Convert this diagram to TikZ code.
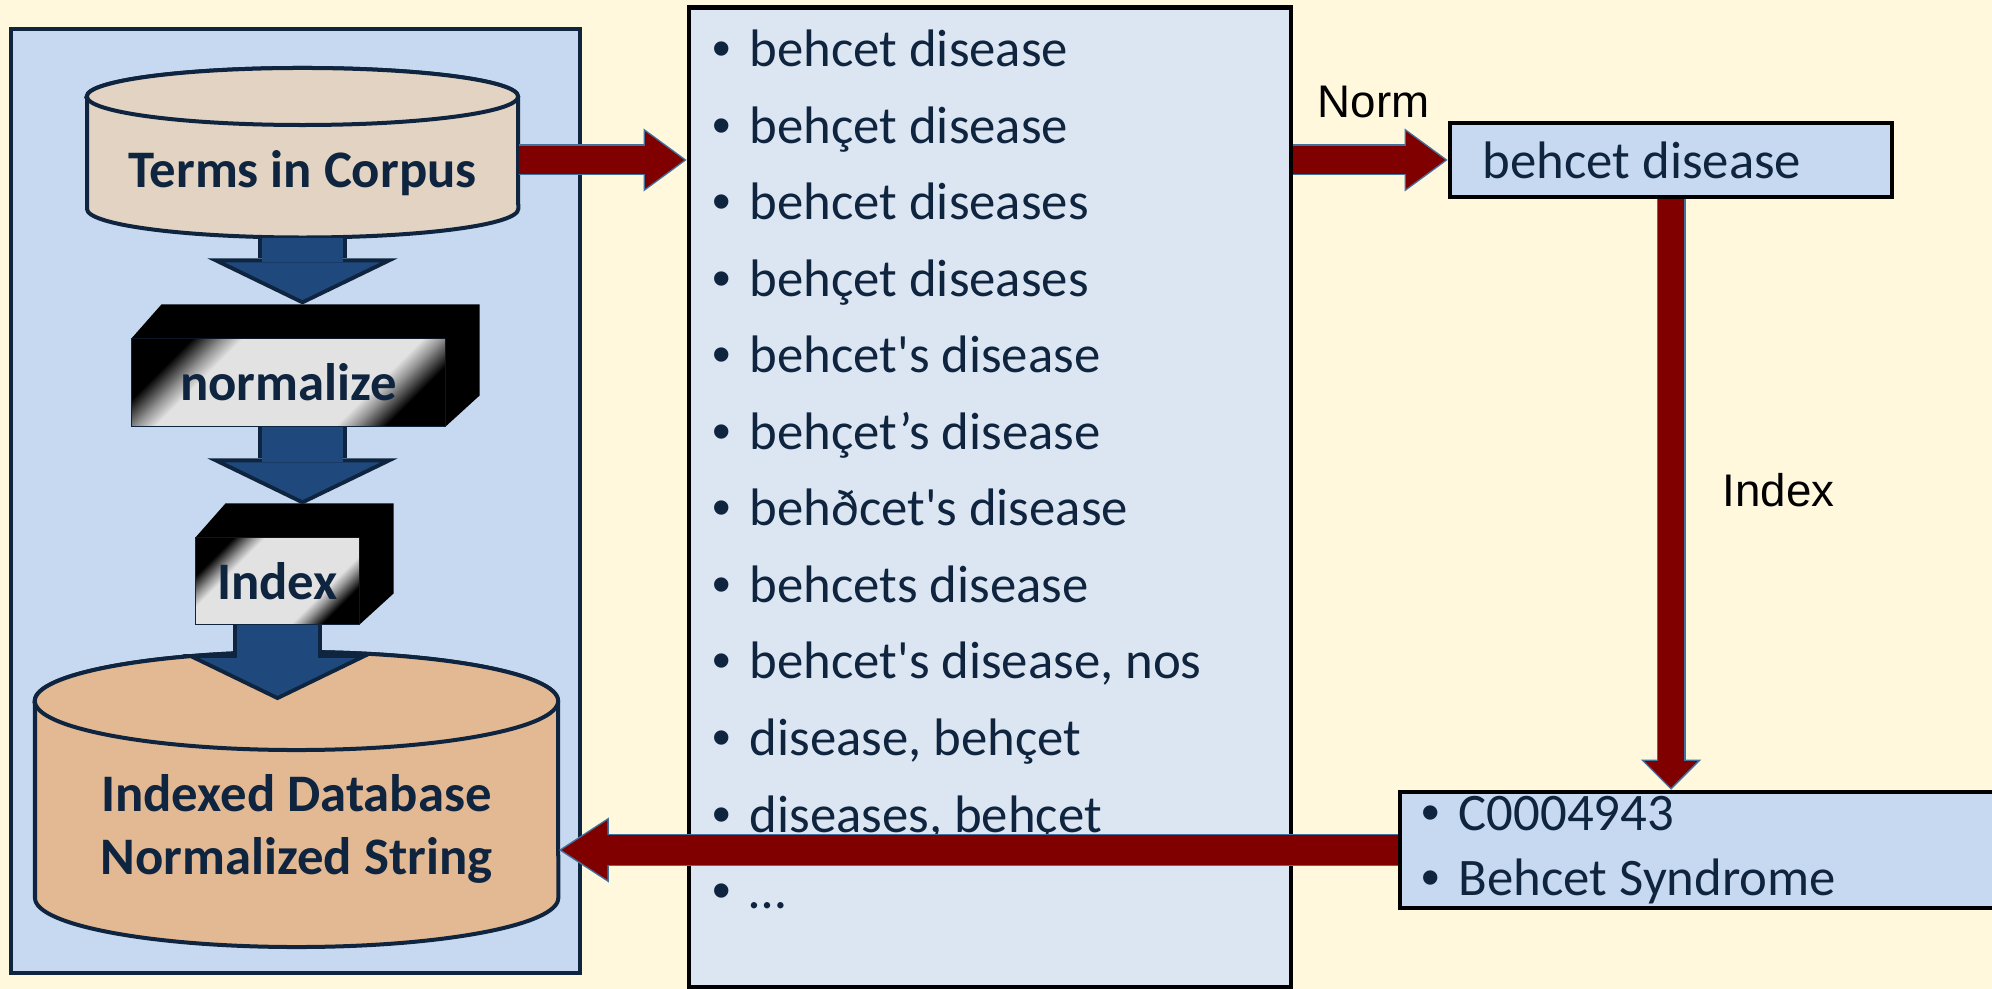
\documentclass[tikz,border=0pt]{standalone}
\usepackage{fontspec}
\setmainfont{Carlito}[Ligatures=TeXOff]
\newfontfamily\arialfont{Liberation Sans}
\usetikzlibrary{arrows.meta}

\definecolor{bgcream}{HTML}{FFF8DC}
\definecolor{panelblue}{HTML}{C6D9F1}
\definecolor{listblue}{HTML}{DCE6F2}
\definecolor{navy}{HTML}{0F243E}
\definecolor{arrowblue}{HTML}{1F497D}
\definecolor{darkred}{HTML}{800000}
\definecolor{edgeblue}{HTML}{41719C}
\definecolor{termsfill}{HTML}{E2D3C3}
\definecolor{dbfill}{HTML}{E3B994}
\definecolor{bevelgray}{HTML}{E2E2E2}

\pgfdeclarehorizontalshading{bevel}{100bp}{color(0bp)=(black); color(25bp)=(black); color(27.5bp)=(black!70!bevelgray); color(30.5bp)=(black!35!bevelgray); color(34bp)=(bevelgray); color(66bp)=(bevelgray); color(69.5bp)=(black!35!bevelgray); color(72.5bp)=(black!70!bevelgray); color(75bp)=(black); color(100bp)=(black)}

\newcommand{\diagfont}{\fontsize{15}{18}\selectfont}
\newcommand{\labfont}{\arialfont\fontsize{13}{15}\selectfont}
\newcommand{\bul}{\leavevmode\llap{\makebox[0.37cm][l]{\arialfont\textbullet}}}

\begin{document}
\begin{tikzpicture}[
    x=0.01cm, y=-0.01cm,
    panel/.style={draw=navy, line width=0.04cm, fill=panelblue},
    cyl/.style={draw=navy, line width=0.04cm},
    cyltext/.style={font=\diagfont\bfseries, text=navy, align=center, inner sep=0pt},
    bevelbox/.style={draw=navy, line width=0.01cm, shade, shading=bevel, shading angle=-45, font=\diagfont\bfseries, text=navy, inner sep=0pt},
    listbox/.style={draw=black, line width=0.045cm, fill=listblue},
    item/.style={font=\diagfont, text=navy, anchor=base west, inner sep=0pt},
    termbox/.style={draw=black, line width=0.045cm, fill=panelblue, font=\fontsize{15}{18.5}\selectfont, text=navy, align=flush left, inner ysep=0pt},
    steplabel/.style={font=\labfont, anchor=base west, inner sep=0pt},
    bluearrow/.style={draw=arrowblue, line width=0.80cm, shorten >=0.044cm,
      -{Triangle[width=1.55cm, length=0.376cm, line width=0pt]},
      preaction={draw=navy, line width=0.88cm, shorten >=0pt, -{Triangle[width=1.90cm, length=0.46cm, line width=0pt]}}},
    redarrow/.style={draw=darkred, line width=0.28cm, shorten >=0.025cm,
      -{Triangle[width=0.572cm, length=0.39cm, line width=0pt]},
      preaction={draw=edgeblue, line width=0.31cm, shorten >=0pt, -{Triangle[width=0.63cm, length=0.43cm, line width=0pt]}}},
    reddown/.style={draw=darkred, line width=0.26cm, shorten >=0.021cm,
      -{Triangle[width=0.528cm, length=0.264cm, line width=0pt]},
      preaction={draw=edgeblue, line width=0.29cm, shorten >=0pt, -{Triangle[width=0.60cm, length=0.30cm, line width=0pt]}}},
    redleft/.style={draw=darkred, line width=0.29cm, shorten >=0.0275cm,
      -{Triangle[width=0.595cm, length=0.4575cm, line width=0pt]},
      preaction={draw=edgeblue, line width=0.32cm, shorten >=0pt, -{Triangle[width=0.65cm, length=0.50cm, line width=0pt]}}},
  ]

  \useasboundingbox (0,0) rectangle (1992,989);
  \clip (0,0) rectangle (1992,989);
  \fill[bgcream] (0,0) rectangle (1992,989);

  % -------------------------------------------------------
  %  Left panel: corpus -> normalize -> index -> database
  % -------------------------------------------------------
  \draw[panel] (11,29) rectangle (580,973);

  % Terms in Corpus cylinder
  \draw[cyl, fill=termsfill] (87,96.5) -- (87,209)
    arc[start angle=180, end angle=360, x radius=2.155cm, y radius=0.285cm]
    -- (518,96.5)
    arc[start angle=0, end angle=180, x radius=2.155cm, y radius=0.285cm] -- cycle;
  \draw[cyl, fill=termsfill] (302.5,96.5) ellipse[x radius=2.155cm, y radius=0.285cm];
  \node[cyltext, minimum width=4.31cm, minimum height=1.27cm] (terms) at (302.5,173.5) {Terms in Corpus};

  % Indexed database cylinder
  \draw[cyl, fill=dbfill] (35,701) -- (35,898)
    arc[start angle=180, end angle=360, x radius=2.615cm, y radius=0.49cm]
    -- (558,701)
    arc[start angle=0, end angle=180, x radius=2.615cm, y radius=0.49cm] -- cycle;
  \draw[cyl, fill=dbfill] (296.5,701) ellipse[x radius=2.615cm, y radius=0.49cm];
  \node[cyltext, minimum width=5.23cm, minimum height=2.56cm] (db) at (296.5,829) {Indexed Database\\Normalized String};

  % 3D step boxes
  \node[bevelbox, minimum width=3.13cm, minimum height=0.87cm] (normalize) at (288.5,382.5) {normalize};
  \node[bevelbox, minimum width=1.63cm, minimum height=0.86cm] (index) at (277.5,581) {Index};
  \foreach \b in {normalize,index} {
    \fill[black] (\b.north west) -- ++(30,-34) -- ([shift={(34,-34)}]\b.north east)
      -- ([shift={(34,-31)}]\b.south east) -- (\b.south east) -- (\b.north east) -- cycle;
  }
  \coordinate (normtop) at ([shift={(0,-34)}]normalize.north);
  \coordinate (indextop) at ([shift={(0,-33)}]index.north);

  % Blue flow arrows
  \draw[bluearrow] (terms.south) -- (terms.south |- normtop);
  \draw[bluearrow] (terms.south |- normalize.south) -- (terms.south |- indextop);
  \draw[bluearrow] (index.south) -- (index.south |- db.north);

  % -------------------------------------------------------
  %  Middle: variants found in the corpus
  % -------------------------------------------------------
  \node[listbox, minimum width=6.02cm, minimum height=9.79cm] (list) at (990,497.5) {};
  \foreach \t [count=\i from 0] in {{behcet disease}, {behçet disease}, {behcet diseases},
      {behçet diseases}, {behcet's disease}, {behçet’s disease}, {behðcet's disease},
      {behcets disease}, {behcet's disease, nos}, {disease, behçet}, {diseases, behçet}, {…}} {
    \node[item] (item\i) at (749, 67+76.5*\i) {\bul\t};
  }

  % -------------------------------------------------------
  %  Right: normalized string and its concept
  % -------------------------------------------------------
  \node[termbox, text width=3.76cm, inner xsep=0.33cm, minimum height=0.74cm] (normbox) at (1671,160) {behcet disease};
  \node[termbox, text width=5.2cm, inner xsep=0.59cm, minimum height=1.16cm] (codes) at (1719,850)
    {\bul C0004943\\\bul Behcet Syndrome};

  \node[steplabel] (normlabel) at (1317,118) {Norm};
  \node[steplabel] (indexlabel) at (1722,507) {Index};

  % Red flow arrows
  \draw[redarrow] (terms.east |- normbox.west) -- (list.west |- normbox.west);
  \draw[redarrow] (list.east |- normbox.west) -- (normbox.west);
  \draw[reddown] (normbox.south) -- (normbox.south |- codes.north);
  \draw[redleft] (codes.west) -- (codes.west -| db.east);

\end{tikzpicture}
\end{document}
